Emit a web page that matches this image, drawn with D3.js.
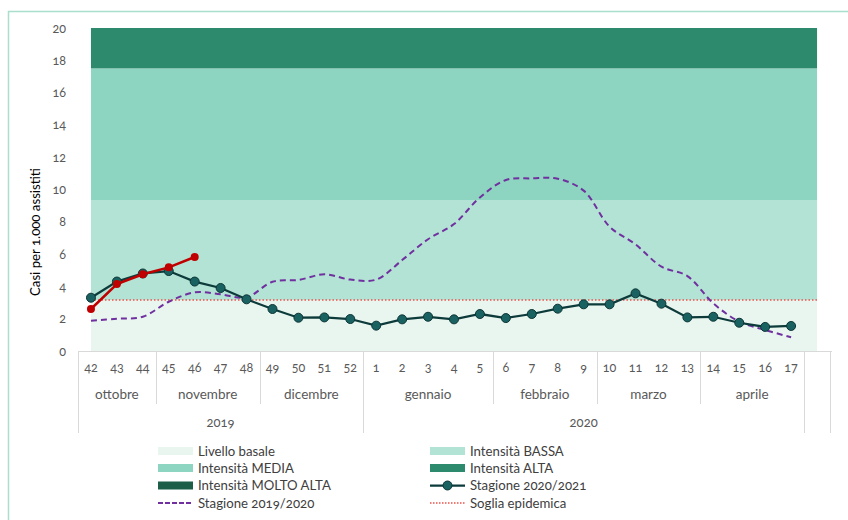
<!DOCTYPE html>
<html>
<head>
<meta charset="utf-8">
<script src="https://cdn.jsdelivr.net/npm/d3@7"></script>
<style>
  body { margin: 0; background: #fff; }
  svg text { font-family: Lato, "Open Sans", sans-serif; font-variant-numeric: oldstyle-nums; }
</style>
</head>
<body>
<svg id="chart" width="848" height="520"></svg>
<script>
// categorie (settimane) - l'ultima è vuota come nell'originale
const weeks = ["42","43","44","45","46","47","48","49","50","51","52",
  "1","2","3","4","5","6","7","8","9","10","11","12","13","14","15","16","17",""];
const monthNames = ["ottobre","novembre","dicembre","gennaio","febbraio","marzo","aprile",""];
const monthSpans = [3, 4, 4, 5, 4, 4, 4, 1];
const yearNames = ["2019", "2020", ""];
const yearSpans = [11, 17, 1];

const season2021 = [3.3, 4.3, 4.8, 4.95, 4.3, 3.9, 3.2, 2.6, 2.06, 2.08, 1.98,
  1.57, 1.96, 2.12, 1.96, 2.29, 2.04, 2.29, 2.62, 2.89, 2.89, 3.57, 2.93, 2.08, 2.12, 1.75, 1.49, 1.55];
const season1920 = [1.88, 2.0, 2.12, 3.05, 3.63, 3.51, 3.32, 4.29, 4.4, 4.75, 4.42,
  4.42, 5.63, 6.92, 7.86, 9.51, 10.59, 10.69, 10.67, 9.93, 7.7, 6.6, 5.22, 4.64, 2.95, 1.82, 1.3, 0.85];
const seasonCurrent = [2.6, 4.15, 4.75, 5.18, 5.82];

const soglia = 3.16;
const bandNames = ["Livello basale", "Intensità BASSA", "Intensità MEDIA", "Intensità ALTA", "Intensità MOLTO ALTA"];
const bandTops = [3.16, 9.35, 17.5, 27.5, 40];
const bandColors = ["#e9f6ef", "#b3e3d4", "#8dd5c0", "#2e8a6d", "#1d5e48"];
const yTicks = [0, 2, 4, 6, 8, 10, 12, 14, 16, 18, 20];

const svg = d3.select("#chart");

// bordo esterno
svg.append("rect")
  .attr("x", 8.5).attr("y", 11.5)
  .attr("width", 900).attr("height", 600)
  .attr("fill", "none")
  .attr("stroke", "#a9dfcc")
  .attr("stroke-width", 1.5);

const x = d3.scaleBand().domain(weeks).range([78, 830]);
const cx = (w) => x(w) + x.bandwidth() / 2;
const y = d3.scaleLinear().domain([0, 20]).range([351, 28]);

// fasce di intensità
const x0 = cx(weeks[0]), x1 = cx(weeks[weeks.length - 1]);
svg.append("g").selectAll("rect")
  .data(bandTops)
  .join("rect")
  .attr("x", x0)
  .attr("width", x1 - x0)
  .attr("y", d => y(Math.min(d, 20)))
  .attr("height", (d, i) => {
    const lo = i === 0 ? 0 : Math.min(bandTops[i - 1], 20);
    return y(lo) - y(Math.min(d, 20));
  })
  .attr("fill", (d, i) => bandColors[i]);

// soglia epidemica
svg.append("line")
  .attr("x1", x0).attr("x2", x1)
  .attr("y1", y(soglia)).attr("y2", y(soglia))
  .attr("stroke", "#f0504a")
  .attr("stroke-width", 1.5)
  .attr("stroke-dasharray", "1.5,2");

// asse y
const axisY = d3.axisLeft(y).tickValues(yTicks).tickSize(0).tickPadding(0);
const gy = svg.append("g").attr("transform", "translate(66,0)").call(axisY);
gy.select(".domain").remove();
gy.selectAll("text").attr("fill", "#595959").style("font-size", "12.5px");

svg.append("text")
  .attr("transform", "translate(40,232) rotate(-90)")
  .attr("text-anchor", "middle")
  .attr("fill", "#000")
  .style("font-size", "13.2px")
  .text("Casi per 1.000 assistiti");

// tabella dell'asse x
const axisColor = "#d9d9d9";
const tbl = svg.append("g");
tbl.append("line")
  .attr("x1", 78).attr("x2", 832).attr("y1", 351.5).attr("y2", 351.5)
  .attr("stroke", axisColor);

tbl.selectAll(".wk")
  .data(weeks)
  .join("text")
  .attr("x", d => cx(d))
  .attr("y", 372)
  .attr("text-anchor", "middle")
  .attr("fill", "#595959")
  .style("font-size", "12.5px")
  .text(d => d);

let idx = 0;
monthSpans.forEach((n, i) => {
  const a = x(weeks[idx]);
  const b = x(weeks[idx + n - 1]) + x.bandwidth();
  tbl.append("text")
    .attr("x", (a + b) / 2).attr("y", 399)
    .attr("text-anchor", "middle")
    .attr("fill", "#595959")
    .style("font-size", "13.5px")
    .text(monthNames[i]);
  tbl.append("line")
    .attr("x1", Math.round(b) + 0.5).attr("x2", Math.round(b) + 0.5)
    .attr("y1", 351).attr("y2", 404)
    .attr("stroke", axisColor);
  idx += n;
});

idx = 0;
tbl.append("line")
  .attr("x1", 78.5).attr("x2", 78.5).attr("y1", 351).attr("y2", 433)
  .attr("stroke", axisColor);
yearSpans.forEach((n, i) => {
  const a = x(weeks[idx]);
  const b = x(weeks[idx + n - 1]) + x.bandwidth();
  tbl.append("text")
    .attr("x", (a + b) / 2).attr("y", 427)
    .attr("text-anchor", "middle")
    .attr("fill", "#595959")
    .style("font-size", "13px")
    .text(yearNames[i]);
  tbl.append("line")
    .attr("x1", Math.round(b) + 0.5).attr("x2", Math.round(b) + 0.5)
    .attr("y1", 351).attr("y2", 433)
    .attr("stroke", axisColor);
  idx += n;
});

// serie
const line = d3.line().x((d, i) => cx(weeks[i])).y(d => y(d));
const smooth = d3.line().x((d, i) => cx(weeks[i])).y(d => y(d)).curve(d3.curveCatmullRom);

svg.append("path")
  .attr("d", smooth(season1920))
  .attr("fill", "none")
  .attr("stroke", "#7030a0")
  .attr("stroke-width", 2)
  .attr("stroke-dasharray", "6,4");

svg.append("path")
  .attr("d", line(season2021))
  .attr("fill", "none")
  .attr("stroke", "#0d3b3b")
  .attr("stroke-width", 2.25);
svg.append("g").selectAll("circle")
  .data(season2021)
  .join("circle")
  .attr("cx", (d, i) => cx(weeks[i]))
  .attr("cy", d => y(d))
  .attr("r", 4.5)
  .attr("fill", "#1a6162")
  .attr("stroke", "#0d3636")
  .attr("stroke-width", 1);

svg.append("path")
  .attr("d", line(seasonCurrent))
  .attr("fill", "none")
  .attr("stroke", "#c00000")
  .attr("stroke-width", 2.5);
svg.append("g").selectAll("circle")
  .data(seasonCurrent)
  .join("circle")
  .attr("cx", (d, i) => cx(weeks[i]))
  .attr("cy", d => y(d))
  .attr("r", 4)
  .attr("fill", "#c00000");

// legenda
const legend = [
  { label: bandNames[0], type: "rect", color: bandColors[0], col: 0, row: 0 },
  { label: bandNames[1], type: "rect", color: bandColors[1], col: 1, row: 0 },
  { label: bandNames[2], type: "rect", color: bandColors[2], col: 0, row: 1 },
  { label: bandNames[3], type: "rect", color: bandColors[3], col: 1, row: 1 },
  { label: bandNames[4], type: "rect", color: bandColors[4], col: 0, row: 2 },
  { label: "Stagione 2020/2021", type: "marker", color: "#0d3b3b", col: 1, row: 2 },
  { label: "Stagione 2019/2020", type: "dash", color: "#7030a0", col: 0, row: 3 },
  { label: "Soglia epidemica", type: "dot", color: "#f0504a", col: 1, row: 3 }
];
const legX = [158, 430], legY = [451, 468, 485.5, 503];
const lg = svg.append("g");
legend.forEach(d => {
  const lx = legX[d.col], ly = legY[d.row];
  if (d.type === "rect") {
    lg.append("rect").attr("x", lx).attr("y", ly - 4).attr("width", 35).attr("height", 8).attr("fill", d.color);
  } else {
    const l = lg.append("line").attr("x1", lx).attr("x2", lx + 35).attr("y1", ly).attr("y2", ly)
      .attr("stroke", d.color);
    if (d.type === "marker") {
      l.attr("stroke-width", 2.25);
      lg.append("circle").attr("cx", lx + 17.5).attr("cy", ly).attr("r", 4.5)
        .attr("fill", "#1a6162").attr("stroke", "#0d3636");
    } else if (d.type === "dash") {
      l.attr("stroke-width", 2).attr("stroke-dasharray", "5,2");
    } else {
      l.attr("stroke-width", 1.5).attr("stroke-dasharray", "1.5,1.5");
    }
  }
  lg.append("text")
    .attr("x", lx + 40).attr("y", ly + 4.5)
    .attr("fill", "#404040")
    .style("font-size", "13.2px")
    .text(d.label);
});
</script>
</body>
</html>
